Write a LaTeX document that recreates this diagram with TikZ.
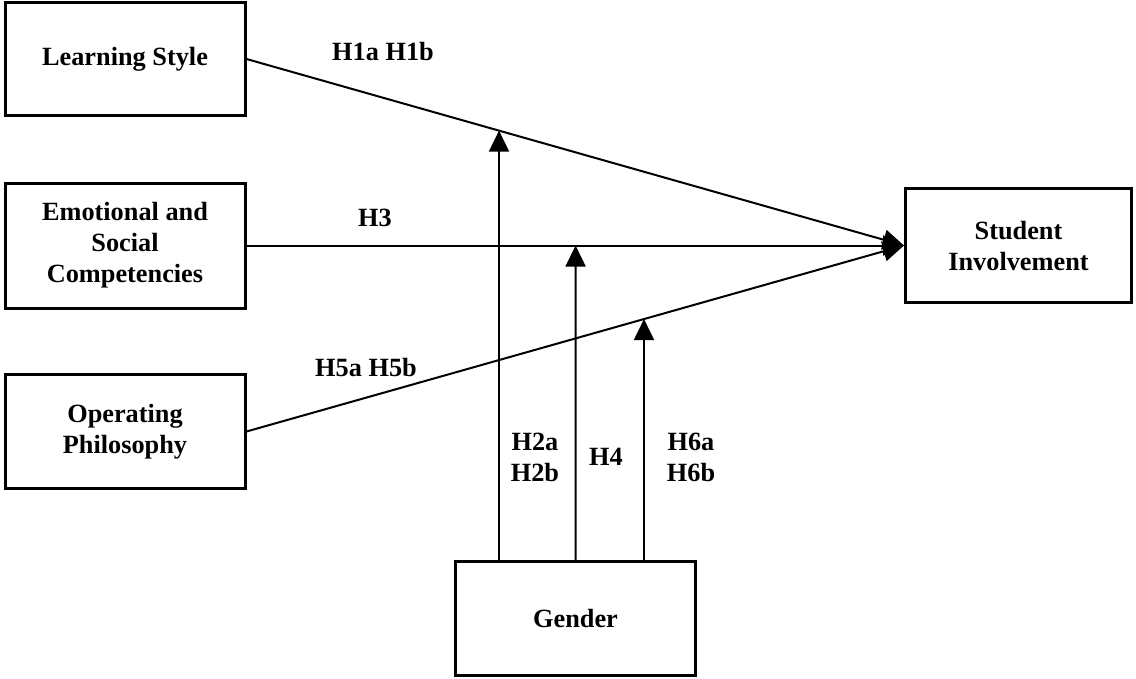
\documentclass[tikz,border=0pt]{standalone}
\usepackage{fontspec}
\setmainfont{Liberation Serif}
\usetikzlibrary{arrows.meta}
\begin{document}
\begin{tikzpicture}[x=1pt,y=-1pt,
  font=\fontsize{26.3}{31}\selectfont\bfseries,
  box/.style={draw,line width=3pt,inner sep=0pt,align=center,
    minimum width=240pt,minimum height=114pt},
  link/.style={line width=2pt,-{Triangle[length=21pt,width=20pt]}},
  hyp/.style={inner sep=0pt,align=center}]
  \useasboundingbox (0,0) rectangle (1136,678);

  % constructs
  \node[box,minimum height=113pt] (ls)  at (125,59)    {Learning Style};
  \node[box,minimum height=125pt] (esc) at (125,245.5) {Emotional and\\Social\\Competencies};
  \node[box]                      (op)  at (125,431.5) {Operating\\Philosophy};
  \node[box,minimum width=226pt]  (si)  at (1018.5,245.5) {Student\\Involvement};
  \node[box]                      (gen) at (575.5,618.5) {Gender};

  % direct effects
  \draw[link] (ls.east)  -- (si.west);
  \draw[link] (esc.east) -- (si.west);
  \draw[link] (op.east)  -- (si.west);

  % moderating effects of gender
  \coordinate (g1) at ([xshift=-76.5pt]gen.north);
  \coordinate (g2) at (gen.north);
  \coordinate (g3) at ([xshift=68.5pt]gen.north);
  \coordinate (u1) at ([yshift=500pt]g1);
  \coordinate (u2) at ([yshift=500pt]g2);
  \coordinate (u3) at ([yshift=500pt]g3);
  \draw[link] (g1) -- (intersection of ls.east--si.west and g1--u1);
  \draw[link] (g2) -- (intersection of esc.east--si.west and g2--u2);
  \draw[link] (g3) -- (intersection of op.east--si.west and g3--u3);

  % hypothesis labels
  \node[hyp] (h1) at (383,52)  {H1a H1b};
  \node[hyp] (h3) at (375,218) {H3};
  \node[hyp] (h5) at (366,367) {H5a H5b};
  \node[hyp] (h2) at (535,457) {H2a\\H2b};
  \node[hyp] (h4) at (606,457) {H4};
  \node[hyp] (h6) at (691,457) {H6a\\H6b};
\end{tikzpicture}
\end{document}
